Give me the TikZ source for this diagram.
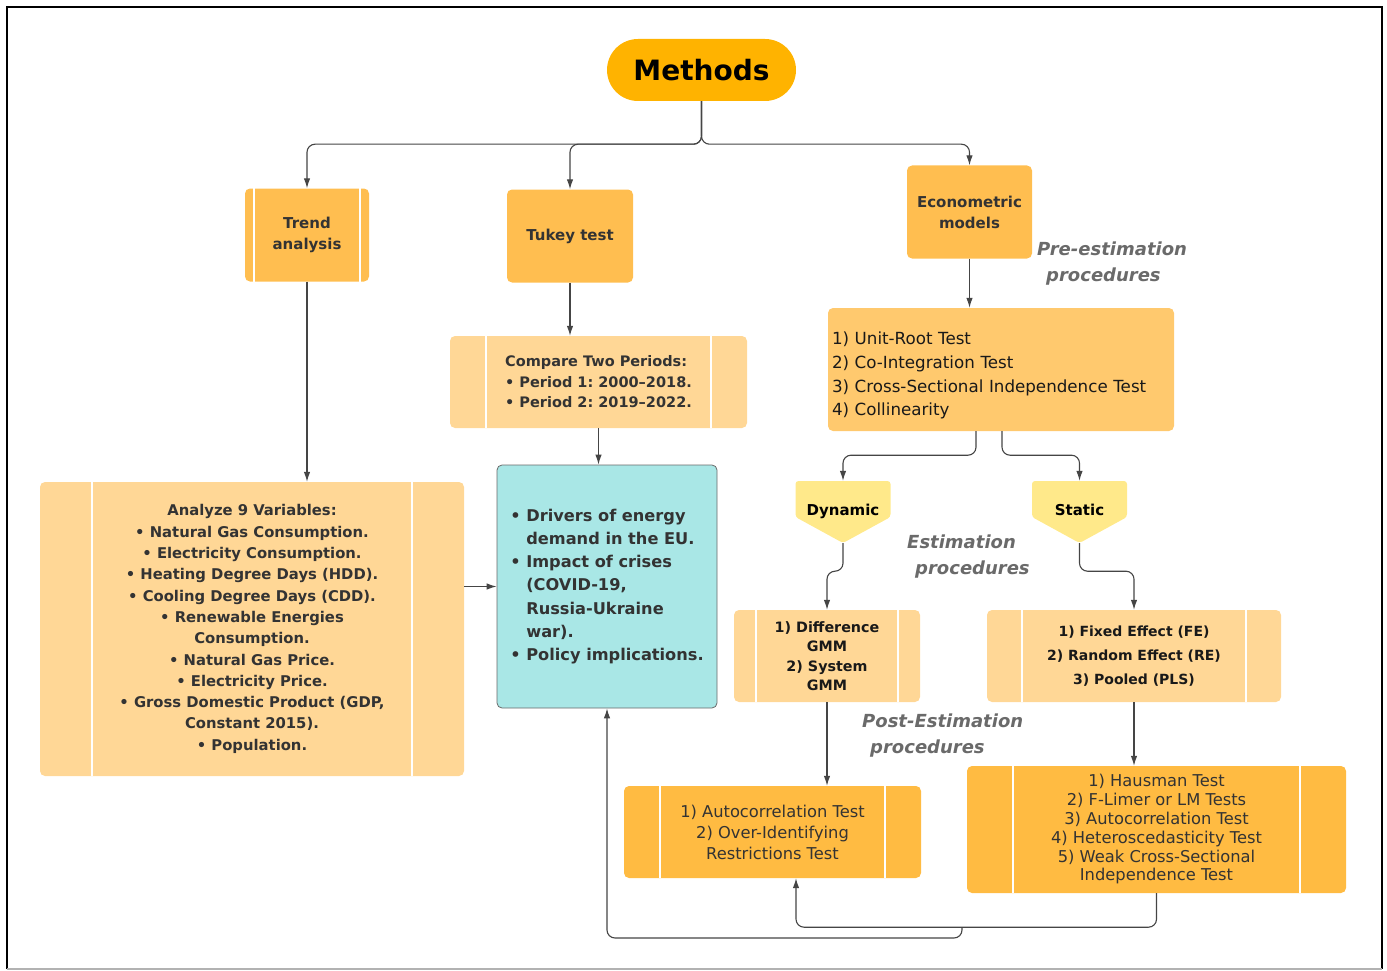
\documentclass[tikz,border=0pt]{standalone}
\usepackage{fontspec}
\setmainfont{DejaVu Sans}
\usetikzlibrary{arrows.meta}

\definecolor{pillorange}{HTML}{FFB300}
\definecolor{boxorange}{HTML}{FFBE50}
\definecolor{preorange}{HTML}{FFC96E}
\definecolor{paleorange}{HTML}{FFD796}
\definecolor{testorange}{HTML}{FFBB42}
\definecolor{choiceyellow}{HTML}{FFE98A}
\definecolor{resultcyan}{HTML}{A9E7E6}
\definecolor{textgrey}{HTML}{333333}
\definecolor{notegrey}{HTML}{6A6A6A}
\definecolor{linegrey}{HTML}{454545}

\newcommand{\bulletgap}{\hphantom{•\ }}
\frenchspacing

\begin{document}
\begin{tikzpicture}[x=1pt, y=-1pt,
base/.style={rectangle, rounded corners=5pt, inner sep=0pt, align=center, text=textgrey},
topbox/.style={base, fill=boxorange, minimum height=93pt, font=\bfseries\fontsize{15}{21}\selectfont},
pale/.style={base, fill=paleorange},
test/.style={base, fill=testorange, font=\fontsize{16.3}{21}\selectfont},
choice/.style={rectangle, inner sep=0pt, minimum width=95pt, minimum height=62pt, font=\bfseries\fontsize{15}{18}\selectfont,
  path picture={\fill[choiceyellow, rounded corners=3pt] (path picture bounding box.north west) -- (path picture bounding box.north east) -- ([yshift=-36pt]path picture bounding box.north east) -- (path picture bounding box.south) -- ([yshift=-36pt]path picture bounding box.north west) -- cycle;}},
note/.style={anchor=west, inner sep=0pt, align=left, text=notegrey, font=\bfseries\itshape\fontsize{18}{26}\selectfont},
link/.style={draw=linegrey, line width=1.1pt, rounded corners=8pt, -{Latex[length=10pt,width=6.5pt]}},
divider/.style={white, line width=1.5pt},
]
\useasboundingbox (0,0) rectangle (1387,971);

% frame
\draw[black, line width=2.5pt] (7,969) -- (7,7) -- (1382,7) -- (1382,969);
\draw[gray!60, line width=1.5pt] (7,969) -- (1382,969);

\node (methods) [base, fill=pillorange, rounded corners=31pt, minimum width=189pt, minimum height=62pt, text=black, font=\bfseries\fontsize{28}{30}\selectfont] at (701.5,70) {Methods};

\node (trend) [topbox, minimum width=124pt] at (307,235) {Trend\\analysis};
\node (tukey) [topbox, minimum width=126pt] at (570,236) {Tukey test};
\node (econ) [topbox, minimum width=125pt] at (969.5,212) {Econometric\\models};

\node (pre) [base, fill=preorange, minimum width=346pt, minimum height=123pt, text width=338pt, align=left, text=black!90, font=\fontsize{16.7}{23.7}\selectfont] at (1001,369.5) {\rule{0pt}{25pt}1) Unit-Root Test\\2) Co-Integration Test\\3) Cross-Sectional Independence Test\\4) Collinearity};

\node (cmp) [pale, minimum width=297pt, minimum height=92pt, align=left, font=\bfseries\fontsize{14.5}{20.5}\selectfont] at (598.5,382) {Compare Two Periods:\\• Period 1: 2000–2018.\\• Period 2: 2019–2022.};

\node (analyze) [pale, minimum width=424pt, minimum height=294pt, font=\bfseries\fontsize{14.8}{21.3}\selectfont] at (252,629) {Analyze 9 Variables:\\• Natural Gas Consumption.\\• Electricity Consumption.\\• Heating Degree Days (HDD).\\• Cooling Degree Days (CDD).\\• Renewable Energies\\Consumption.\\• Natural Gas Price.\\• Electricity Price.\\• Gross Domestic Product (GDP,\\Constant 2015).\\• Population.};

\node (cyan) [base, fill=resultcyan, draw=linegrey!80, line width=0.8pt, minimum width=220pt, minimum height=243pt, align=left, font=\bfseries\fontsize{16.2}{23.3}\selectfont] at (607,586.5) {• Drivers of energy\\\bulletgap demand in the EU.\\• Impact of crises\\\bulletgap (COVID-19,\\\bulletgap Russia-Ukraine\\\bulletgap war).\\• Policy implications.};

\node (dyn) [choice] at (843,512) {\raisebox{5pt}{Dynamic}};
\node (stat) [choice] at (1079.5,512) {\raisebox{5pt}{Static}};

\node (gmm) [pale, minimum width=186pt, minimum height=92pt, text=black!90, font=\bfseries\fontsize{14.3}{19.5}\selectfont] at (827,656) {1) Difference\\GMM\\2) System\\GMM};
\node (fe) [pale, minimum width=294pt, minimum height=92pt, text=black!90, font=\bfseries\fontsize{14}{24}\selectfont] at (1134,656) {1) Fixed Effect (FE)\\2) Random Effect (RE)\\3) Pooled (PLS)};

\node (auto) [test, minimum width=297pt, minimum height=92pt] at (772.5,832) {1) Autocorrelation Test\\2) Over-Identifying\\Restrictions Test};
\node (haus) [test, minimum width=379pt, minimum height=127pt, font=\fontsize{16.3}{18.8}\selectfont] at (1156.5,829.5) {1) Hausman Test\\2) F-Limer or LM Tests\\3) Autocorrelation Test\\4) Heteroscedasticity Test\\5) Weak Cross-Sectional\\Independence Test};

\foreach \n/\d in {trend/9, cmp/36, analyze/52, gmm/22, fe/35, auto/36, haus/46}{
  \draw[divider] ([xshift=\d pt]\n.north west) -- ([xshift=\d pt]\n.south west);
  \draw[divider] ([xshift=-\d pt]\n.north east) -- ([xshift=-\d pt]\n.south east);
}

\node (prelabel) [note] at (1037,264) {Pre-estimation\\\hspace*{9pt}procedures};
\node (estlabel) [note] at (907,557) {Estimation\\\hspace*{8pt}procedures};
\node (postlabel) [note] at (862,736) {Post-Estimation\\\hspace*{8pt}procedures};

% connectors
\draw[link] (methods.south) -- ++(0,43) -| (trend.north);
\draw[link] (methods.south) -- ++(0,43) -| (tukey.north);
\draw[link] (methods.south) -- ++(0,43) -| (econ.north);
\draw[link] (trend.south) -- (trend.south |- analyze.north);
\draw[link] (tukey.south) -- (tukey.south |- cmp.north);
\draw[link] (cmp.south) -- (cmp.south |- cyan.north);
\draw[link] (analyze.east |- cyan.west) -- (cyan.west);
\draw[link] (econ.south) -- (econ.south |- pre.north);
\draw[link] ([xshift=-25pt]pre.south) -- ++(0,24) -| (dyn.north);
\draw[link] ([xshift=1pt]pre.south) -- ++(0,24) -| (stat.north);
\draw[link] (dyn.south) -- ++(0,28) -| (gmm.north);
\draw[link] (stat.south) -- ++(0,28) -| (fe.north);
\draw[link] (gmm.south) -- (gmm.south |- auto.north);
\draw[link] (fe.south) -- (fe.south |- haus.north);
\draw[link] (haus.south) -- ++(0,34) -| ([xshift=23.5pt]auto.south);
\coordinate (split) at (962,927);
\draw[link] (split) -- ++(0,11) -| (cyan.south);

\end{tikzpicture}
\end{document}
